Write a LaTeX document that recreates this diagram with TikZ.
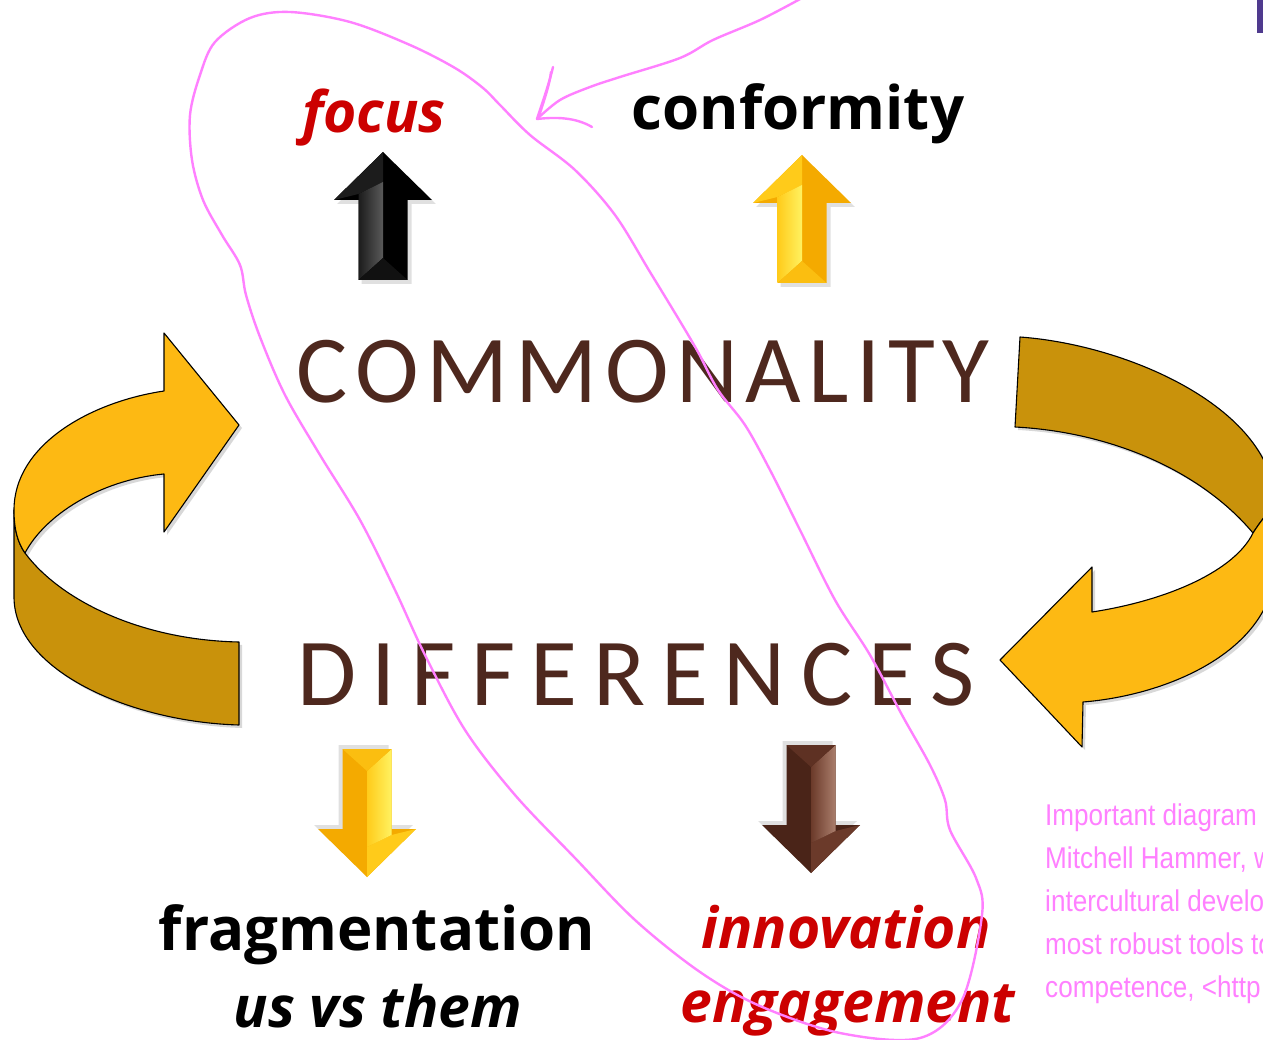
\documentclass[tikz,border=0pt]{standalone}
\usepackage{fontspec}
\setmainfont{Open Sans}
\newfontfamily\capsfont{Carlito}
\newfontfamily\notefont[FakeStretch=0.87]{Liberation Sans}
\usetikzlibrary{shadows}

\definecolor{ribbonlight}{HTML}{FDB913}
\definecolor{ribbondark}{HTML}{C9920B}
\definecolor{earth}{HTML}{4E281E}
\definecolor{hot}{HTML}{CC0000}
\definecolor{ink}{HTML}{FF80FF}
\definecolor{bar}{HTML}{4F3A8E}
% bevelled block arrows: light, mid, dark tones
\definecolor{blkA}{HTML}{5A5A5A}\definecolor{blkB}{HTML}{1C1C1C}\definecolor{blkC}{HTML}{000000}
\definecolor{ylwA}{HTML}{FFF261}\definecolor{ylwB}{HTML}{FFCB1A}\definecolor{ylwC}{HTML}{F4AA00}
\definecolor{brnA}{HTML}{AA7E6C}\definecolor{brnB}{HTML}{6B3A2A}\definecolor{brnC}{HTML}{4A2418}

% upward bevelled arrow, tip at the origin, 128 units long
\newcommand\bevelarrow[3]{%
  \fill[black, opacity=.12] (-46,52) -- (3,4) -- (53,52) -- (28.5,52) -- (28.5,132)
            -- (-21.5,132) -- (-21.5,52) -- cycle;
  \fill[#3] (-49,48) -- (0,0) -- (49,48) -- (24.5,48) -- (24.5,128)
            -- (-24.5,128) -- (-24.5,48) -- cycle;
  \fill[#2] (-49,48) -- (0,0) -- (0,30) -- (-24.5,42) -- cycle;
  \shade[left color=#2, right color=#1] (-24.5,42) -- (0,30) -- (0,106) -- (-24.5,128) -- cycle;
  \fill[#2!60!#3] (-24.5,128) -- (0,106) -- (24.5,128) -- cycle;
}

\tikzset{
  ribbon/.style={draw=black, line width=1.1pt, line join=round,
    drop shadow={shadow xshift=3pt, shadow yshift=-3pt, opacity=.3}},
  bigword/.style={anchor=base, inner sep=0pt, font=\capsfont\fontsize{96}{100}\selectfont, text=earth},
  boldword/.style={anchor=base, inner sep=0pt, font=\bfseries\fontsize{60}{70}\selectfont},
  slantword/.style={anchor=base, inner sep=0pt, font=\bfseries\itshape\fontsize{57}{70}\selectfont},
  noteline/.style={anchor=base west, inner sep=0pt, text=ink, font=\notefont\fontsize{30}{43}\selectfont},
  handline/.style={ink, line width=2.4pt, line cap=round, line join=round}
}

\begin{document}
\begin{tikzpicture}[x=1pt, y=-1pt]
\useasboundingbox (0,0) rectangle (1263,1040);
\fill[white] (0,0) rectangle (1263,1040);
\clip (0,0) rectangle (1263,1040);

% slide edge marker
\fill[bar] (1257,0) rectangle (1263,33);

% left ribbon arrow: back face, then front face with head
\fill[ribbondark, ribbon] (14,510) .. controls (14,530) and (18,543) .. (25,553)
   .. controls (60,600) and (140,640) .. (239,642) -- (239,725)
   .. controls (130,722) and (14,670) .. (14,597) -- cycle;
\fill[ribbonlight, ribbon] (164,391) .. controls (90,402) and (14,445) .. (14,510)
   .. controls (14,530) and (18,543) .. (25,553)
   .. controls (45,515) and (100,480) .. (164,474) -- (164,532) -- (239,425)
   -- (164,333) -- cycle;

% right ribbon arrow
\fill[ribbondark, ribbon] (1020,337) .. controls (1130,345) and (1275,410) .. (1275,505)
   .. controls (1268,512) and (1260,522) .. (1253,533)
   .. controls (1200,470) and (1110,432) .. (1015,427) -- cycle;
\fill[ribbonlight, ribbon] (1253,533) .. controls (1260,522) and (1268,512) .. (1275,505)
   -- (1275,570) .. controls (1270,650) and (1170,695) .. (1083,702)
   -- (1082,747) -- (1000,660) -- (1092,567) -- (1092,612)
   .. controls (1170,600) and (1235,570) .. (1253,533) -- cycle;

% bevelled block arrows
\begin{scope}[shift={(383,152)}]\bevelarrow{blkA}{blkB}{blkC}\end{scope}
\begin{scope}[shift={(802,155)}]\bevelarrow{ylwA}{ylwB}{ylwC}\end{scope}
\begin{scope}[shift={(367,877)}, rotate=180]\bevelarrow{ylwA}{ylwB}{ylwC}\end{scope}
\begin{scope}[shift={(811,873)}, rotate=180]\bevelarrow{brnA}{brnB}{brnC}\end{scope}

% words
\node[slantword, text=hot] (focus) at (374,133) {focus};
\node[boldword] (conf) at (798,130) {conformity};
\node[bigword] (comm) at (643,402)
  {\makebox[693pt][s]{C\hfill O\hfill M\hfill M\hfill O\hfill N\hfill A\hfill L\hfill I\hfill T\hfill Y}};
\node[bigword] (diff) at (636,705)
  {\makebox[678pt][s]{D\hfill I\hfill F\hfill F\hfill E\hfill R\hfill E\hfill N\hfill C\hfill E\hfill S}};
\node[boldword] (frag) at (377,950) {fragmentation};
\node[slantword] (usvs) at (378,1027) {us vs them};
\node[slantword, text=hot] (innov) at (846,948) {innovation};
\node[slantword, text=hot] (engage) at (848,1022) {engagement};

% handwritten note, running off the right edge
\node[noteline] (n1) at (1045,825) {Important diagram};
\node[noteline] (n2) at (1045,868) {Mitchell Hammer, w};
\node[noteline] (n3) at (1045,911) {intercultural develo};
\node[noteline] (n4) at (1045,954) {most robust tools to};
\node[noteline] (n5) at (1045,997) {competence, <http};

% hand-drawn loop and pointer
\draw[handline] plot[smooth cycle, tension=0.55] coordinates {
  (483,88) (455,68) (410,45) (350,22) (290,12) (250,18) (215,42) (200,75)
  (190,115) (192,160) (203,200) (222,235) (240,265) (246,295) (260,337)
  (285,395) (320,455) (360,520) (395,590) (425,655) (465,730) (515,795)
  (575,858) (635,920) (700,972) (760,1006) (840,1033) (920,1038) (962,1000)
  (982,915) (976,878) (950,830) (945,800) (930,765) (902,715) (870,655)
  (835,600) (800,530) (770,470) (745,425) (718,390) (698,352) (678,318)
  (650,272) (615,215) (575,170) (530,135) (500,105)};
\draw[handline] plot[smooth, tension=0.55] coordinates {
  (802,-2) (760,20) (713,40) (680,58) (620,77) (590,87) (560,100) (537,119)};
\draw[handline] (537,119) .. controls (545,95) and (550,80) .. (553,67);
\draw[handline] (539,116) .. controls (546,95) and (550,82) .. (551,72);
\draw[handline] (537,119) .. controls (555,117) and (575,117) .. (592,127);
\end{tikzpicture}
\end{document}
